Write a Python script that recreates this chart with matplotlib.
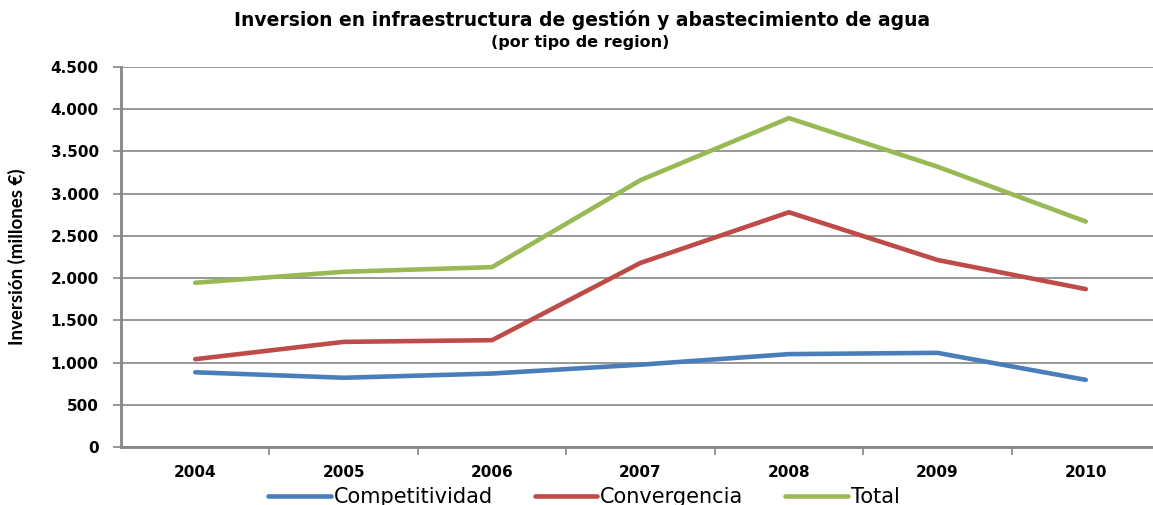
import matplotlib
matplotlib.use('Agg')
import matplotlib.pyplot as plt
from matplotlib.ticker import FixedLocator, FuncFormatter

years = ['2004', '2005', '2006', '2007', '2008', '2009', '2010']
competitividad = [885, 820, 870, 975, 1100, 1115, 795]
convergencia = [1040, 1245, 1265, 2180, 2780, 2215, 1870]
total = [1945, 2075, 2130, 3160, 3895, 3320, 2670]

series = [
    ('Competitividad', competitividad, '#4A7EBB'),
    ('Convergencia', convergencia, '#BE4B48'),
    ('Total', total, '#98B954'),
]

GRID = '#868686'
W, H = 1153, 505

fig = plt.figure(figsize=(W / 100, H / 100), dpi=100)
# axes reaches a bit past the right edge, like the original
ax = fig.add_axes([121 / W, 58 / H, (1160 - 121) / W, 380 / H])

x = list(range(len(years)))
for name, vals, col in series:
    ax.plot(x, vals, color=col, linewidth=3.3, solid_capstyle='round',
            solid_joinstyle='round', label=name, zorder=3)

# Axes limits and ticks
ax.set_ylim(0, 4500)
ax.set_yticks(range(0, 4501, 500))
ax.yaxis.set_major_formatter(FuncFormatter(lambda v, p: f'{int(v):,}'.replace(',', '.')))
ax.set_xlim(-0.5, len(years) - 0.5)
ax.set_xticks(x)
ax.set_xticklabels(years)
ax.xaxis.set_minor_locator(FixedLocator([i + 0.5 for i in range(len(years) - 1)]))

ax.grid(axis='y', color=GRID, linewidth=1.2, zorder=0)
for s in ['top', 'right']:
    ax.spines[s].set_visible(False)
for s in ['left', 'bottom']:
    ax.spines[s].set_color(GRID)
    ax.spines[s].set_linewidth(2)

ax.tick_params(axis='y', length=6, width=1.2, color=GRID, pad=10)
ax.tick_params(axis='x', which='major', length=0, pad=13)
ax.tick_params(axis='x', which='minor', length=6, width=1.2, color=GRID)
for lab in ax.get_yticklabels() + ax.get_xticklabels():
    lab.set_family('DejaVu Sans')
    lab.set_weight('bold')
    lab.set_size(11)

ax.set_ylabel('Inversión (millones €)', family='Lato', weight='bold', fontsize=13.5)
ax.yaxis.set_label_coords(-95 / (1160 - 121), 0.5)

fig.text(582 / W, 1 - 20 / H, 'Inversion en infraestructura de gestión y abastecimiento de agua',
         ha='center', va='center', family='DejaVu Sans', weight='bold', fontsize=13.5)
fig.text(580 / W, 1 - 42 / H, '(por tipo de region)',
         ha='center', va='center', family='DejaVu Sans', weight='bold', fontsize=11.5)

fig.legend(loc='center', bbox_to_anchor=(584 / W, 1 - 497 / H), ncol=3, frameon=False,
           prop=dict(family='DejaVu Sans', size=15), handlelength=3.0, columnspacing=2.0,
           handletextpad=0.15)

fig.savefig('out.png', dpi=100)
